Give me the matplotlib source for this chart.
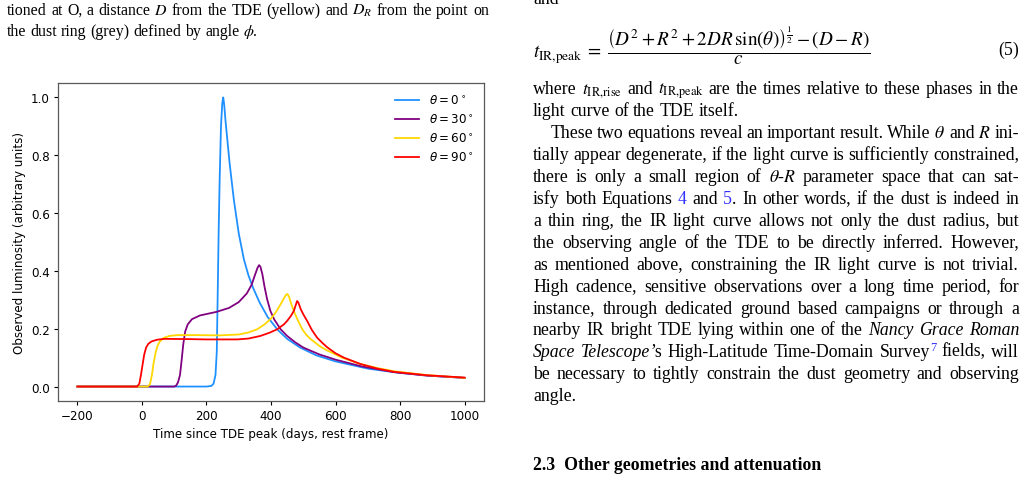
import math
import matplotlib
matplotlib.use('Agg')
import matplotlib.pyplot as plt
from matplotlib.backends.backend_agg import get_hinting_flag

# light curves (days since TDE peak, luminosity)
t_0 = [-200, 100, 200, 215, 222, 228, 232, 235, 238, 241, 245, 249, 252, 255, 259, 265, 272, 285, 300, 316, 330, 345,
       365, 390, 420, 450, 490, 540, 600, 700, 800, 900, 1000]
lum_0 = [0, 0, 0, 0.002, 0.01, 0.04, 0.12, 0.33, 0.55, 0.72, 0.9, 0.98, 1.0, 0.975, 0.92, 0.85, 0.77, 0.645, 0.53,
         0.44, 0.385, 0.34, 0.29, 0.24, 0.197, 0.165, 0.135, 0.108, 0.087, 0.062, 0.047, 0.037, 0.03]

t_30 = [-200, 100, 106, 112, 118, 123, 128, 134, 142, 155, 180, 230, 270, 300, 325, 340, 350, 358, 363, 367, 373,
        380, 388, 398, 410, 430, 450, 475, 500, 550, 600, 680, 780, 880, 1000]
lum_30 = [0, 0, 0.003, 0.015, 0.04, 0.09, 0.145, 0.19, 0.215, 0.233, 0.246, 0.258, 0.272, 0.292, 0.322, 0.352,
          0.385, 0.41, 0.42, 0.415, 0.39, 0.345, 0.302, 0.262, 0.232, 0.198, 0.175, 0.153, 0.135, 0.111, 0.093,
          0.07, 0.05, 0.038, 0.03]

t_60 = [-200, 18, 25, 31, 36, 42, 48, 55, 67, 85, 110, 160, 240, 300, 330, 357, 380, 400, 415, 430, 440, 447, 451,
        456, 463, 471, 485, 497, 510, 522, 553, 574, 620, 677, 730, 781, 880, 1000]
lum_60 = [0, 0, 0.008, 0.04, 0.08, 0.115, 0.14, 0.155, 0.168, 0.175, 0.178, 0.178, 0.177, 0.18, 0.187, 0.198,
          0.215, 0.235, 0.257, 0.285, 0.305, 0.318, 0.32, 0.31, 0.285, 0.26, 0.225, 0.198, 0.178, 0.165, 0.138,
          0.125, 0.1, 0.078, 0.064, 0.053, 0.04, 0.03]

t_90 = [-200, -15, -8, -3, 2, 7, 13, 20, 30, 47, 70, 150, 200, 295, 330, 367, 395, 419, 440, 450, 462, 471, 477,
        481, 485, 492, 500, 512, 527, 543, 560, 574, 600, 626, 677, 730, 781, 884, 1000]
lum_90 = [0, 0, 0.01, 0.04, 0.075, 0.11, 0.135, 0.148, 0.156, 0.162, 0.165, 0.164, 0.163, 0.163, 0.166, 0.175,
          0.186, 0.198, 0.215, 0.227, 0.245, 0.262, 0.283, 0.296, 0.29, 0.268, 0.25, 0.227, 0.195, 0.169, 0.15,
          0.136, 0.115, 0.1, 0.078, 0.062, 0.051, 0.039, 0.031]

curves = [
    (t_0, lum_0, '#1e90ff', r'$\theta = 0^\circ$'),
    (t_30, lum_30, 'purple', r'$\theta = 30^\circ$'),
    (t_60, lum_60, 'gold', r'$\theta = 60^\circ$'),
    (t_90, lum_90, 'red', r'$\theta = 90^\circ$'),
]

# the figure in the page is a default matplotlib plot shrunk by ~0.86
sc = 0.86
plt.rcParams['font.size'] = 10 * sc
plt.rcParams['xtick.major.size'] = 3.5 * sc
plt.rcParams['ytick.major.size'] = 3.5 * sc
plt.rcParams['xtick.major.pad'] = 3.5 * sc
plt.rcParams['ytick.major.pad'] = 3.5 * sc
plt.rcParams['axes.labelpad'] = 4 * sc

W, H = 1025, 481
fig = plt.figure(figsize=(W / 100, H / 100), dpi=100)
ax = fig.add_axes([58 / W, 1 - 402 / H, 426 / W, 318 / H])
for t, lum, col, lab in curves:
    ax.plot(t, lum, color=col, lw=1.5 * sc, label=lab)
ax.set_xlabel('Time since TDE peak (days, rest frame)')
ax.set_ylabel('Observed luminosity (arbitrary units)')
ax.set_xticks([-200, 0, 200, 400, 600, 800, 1000])
ax.set_yticks([0.0, 0.2, 0.4, 0.6, 0.8, 1.0])
ax.legend(loc='upper right', frameon=False)
for s in ax.spines.values():
    s.set_color('0.35')
    s.set_linewidth(0.9)

# surrounding page text
SERIF = 'Liberation Serif'
BLUE = '#3030ff'
FS = 12.8      # body text
FS_CAP = 11.4  # caption text
renderer = fig.canvas.get_renderer()


def kw(sty, fs):
    d = dict(family=SERIF, math_fontfamily='stix', fontsize=fs, va='baseline', ha='left', color='black')
    if sty == 'i':
        d['style'] = 'italic'
    if sty == 'l':
        d['color'] = BLUE
    if sty == 's':
        d['color'] = BLUE
        d['fontsize'] = fs * 0.7
    return d


def desc_frac(t, txt):
    # keep words of one line on the same pixel row (agg rounds by ink descent)
    if '$' in txt:
        return 0.0
    try:
        font = renderer._prepare_font(t.get_fontproperties())
        font.set_text(txt, 0, flags=get_hinting_flag())
        d = font.get_descent() / 64.0
        return d - math.floor(d)
    except Exception:
        return 0.0


def split_words(segs):
    words = [[]]
    for txt, sty in segs:
        parts = txt.split(' ')
        for k, p in enumerate(parts):
            if k > 0:
                words.append([])
            if p:
                words[-1].append((p, sty))
    return [w for w in words if w]


def text_line(segs, x0, x1, base, justify=True, fs=FS):
    base = round(base)
    made = []
    for w in split_words(segs):
        pieces = []
        for txt, sty in w:
            dy = 6 if sty == 's' else 0
            t = fig.text(0, 0, txt, **kw(sty, fs))
            t.set_y(1 - (base - dy - desc_frac(t, txt)) / H)
            pieces.append((t, t.get_window_extent(renderer).width))
        made.append(pieces)
    widths = [sum(p[1] for p in pcs) for pcs in made]
    if justify and len(made) > 1:
        gap = (x1 - x0 - sum(widths)) / (len(made) - 1)
    else:
        gap = 0.25 * fs * 100 / 72
    x = x0
    for pcs, wd in zip(made, widths):
        xx = x
        for t, wpx in pcs:
            t.set_x(xx / W)
            xx += wpx
        x += wd + gap


N = 'n'
left_lines = [
    ([('tioned at O, a distance $D$ from the TDE (yellow) and $D_R$ from the point on', N)], True),
    ([('the dust ring (grey) defined by angle $\\phi$.', N)], False),
]
for k, (segs, just) in enumerate(left_lines):
    text_line(segs, 7, 489, 15 + 21.5 * k, just, fs=FS_CAP)

right_lines = [
    ([('where $t_{\\mathrm{IR{,}rise}}$ and $t_{\\mathrm{IR{,}peak}}$ are the times relative to these phases in the', N)], True, 533),
    ([('light curve of the TDE itself.', N)], False, 533),
    ([('These two equations reveal an important result. While $\\theta$ and $R$ ini-', N)], True, 551),
    ([('tially appear degenerate, if the light curve is sufficiently constrained,', N)], True, 533),
    ([('there is only a small region of $\\theta$-$R$ parameter space that can sat-', N)], True, 533),
    ([('isfy both Equations ', N), ('4', 'l'), (' and ', N), ('5', 'l'),
      ('. In other words, if the dust is indeed in', N)], True, 533),
    ([('a thin ring, the IR light curve allows not only the dust radius, but', N)], True, 533),
    ([('the observing angle of the TDE to be directly inferred. However,', N)], True, 533),
    ([('as mentioned above, constraining the IR light curve is not trivial.', N)], True, 533),
    ([('High cadence, sensitive observations over a long time period, for', N)], True, 533),
    ([('instance, through dedicated ground based campaigns or through a', N)], True, 533),
    ([('nearby IR bright TDE lying within one of the ', N), ('Nancy Grace Roman', 'i')], True, 533),
    ([('Space Telescope', 'i'), ('\u2019s High-Latitude Time-Domain Survey', N), ('7', 's'),
      (' fields, will', N)], True, 533),
    ([('be necessary to tightly constrain the dust geometry and observing', N)], True, 533),
    ([('angle.', N)], False, 533),
]
for k, (segs, just, x0) in enumerate(right_lines):
    text_line(segs, x0, 1019, 94 + 21.95 * k, just)

fig.text(533 / W, 1 - 4 / H, 'and', family=SERIF, fontsize=FS, va='baseline')
fig.text(533 / W, 1 - 58 / H,
         r'$t_{\mathrm{IR{,}peak}}\;=\;\dfrac{\left(D^2 + R^2 + 2DR\,\sin(\theta)\right)^{\frac{1}{2}} - (D-R)}{c}$',
         math_fontfamily='stix', fontsize=13.8, va='baseline')
fig.text(1019 / W, 1 - 55 / H, '(5)', family=SERIF, fontsize=FS, va='baseline', ha='right')
fig.text(533 / W, 1 - 470 / H, '2.3  Other geometries and attenuation', family=SERIF,
         fontsize=FS, weight='bold', va='baseline')

fig.savefig('out.png', dpi=100)
